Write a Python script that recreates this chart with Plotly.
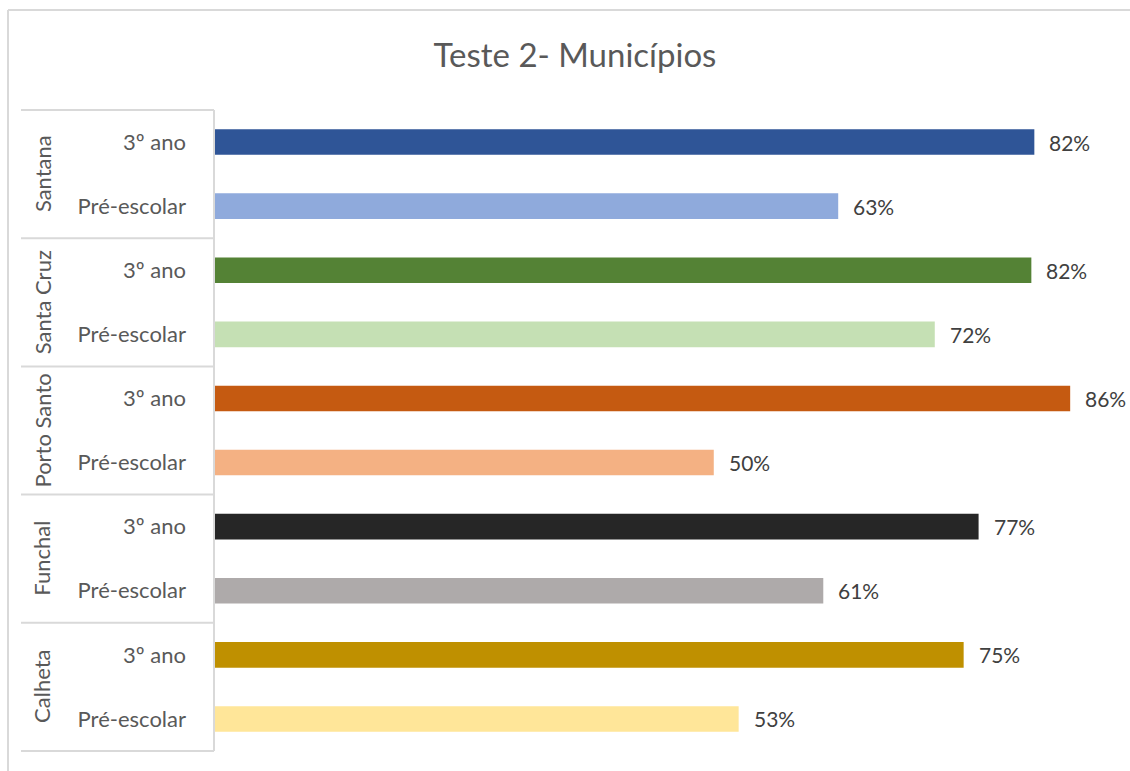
import plotly.graph_objects as go

municipios = ["Santana", "Santa Cruz", "Porto Santo", "Funchal", "Calheta"]
niveis = ["3º ano", "Pré-escolar"]
valores_3ano = [0.824, 0.821, 0.860, 0.768, 0.753]
valores_pre = [0.627, 0.724, 0.502, 0.612, 0.527]
cores_3ano = ["#2F5597", "#548235", "#C55A11", "#262626", "#BF9000"]
cores_pre = ["#8FAADC", "#C5E0B4", "#F4B183", "#AEAAAA", "#FFE699"]

W, H = 1130, 771
L, R, T, B = 214, 20, 109, 19
FONT = "Lato, 'Open Sans', sans-serif"
GREY = "#D9D9D9"

keys, labels, vals, cols = [], [], [], []
for i, m in enumerate(municipios):
    keys += [m + "|" + niveis[0], m + "|" + niveis[1]]
    labels += niveis
    vals += [valores_3ano[i], valores_pre[i]]
    cols += [cores_3ano[i], cores_pre[i]]

fig = go.Figure(go.Bar(
    x=vals, y=keys, orientation="h",
    marker=dict(color=cols, line=dict(width=0)),
    width=0.4, hoverinfo="skip",
))

pw = W - L - R
ph = H - T - B
def px2paper_x(px):
    return (px - L) / pw
def px2paper_y(py):
    return 1 - (py - T) / ph

shapes = []
top_y = px2paper_y(10)
shapes.append(dict(type="line", xref="paper", yref="paper",
                   x0=px2paper_x(8), x1=px2paper_x(1130), y0=top_y, y1=top_y,
                   line=dict(color=GREY, width=2)))
shapes.append(dict(type="line", xref="paper", yref="paper",
                   x0=px2paper_x(8), x1=px2paper_x(8), y0=px2paper_y(771), y1=top_y,
                   line=dict(color=GREY, width=2)))
n = len(keys)
for b in range(0, n + 1, 2):
    shapes.append(dict(type="line", xref="paper", yref="y",
                       x0=px2paper_x(21), x1=0, y0=b - 0.5, y1=b - 0.5,
                       line=dict(color=GREY, width=2)))
shapes.append(dict(type="line", xref="paper", yref="y",
                   x0=0, x1=0, y0=-0.5, y1=n - 0.5,
                   line=dict(color=GREY, width=2)))

annotations = []
for i, m in enumerate(municipios):
    annotations.append(dict(text=m, xref="paper", yref="y",
                            x=px2paper_x(42), y=2 * i + 0.5, textangle=-90,
                            showarrow=False, xanchor="center", yanchor="middle",
                            font=dict(family=FONT, size=22, color="#595959")))
for k, v in zip(keys, vals):
    annotations.append(dict(text=f"{round(v * 100)}%", xref="x", yref="y",
                            x=v, y=k, xanchor="left", yanchor="middle",
                            xshift=13, showarrow=False,
                            font=dict(family=FONT, size=21, color="#404040")))

fig.update_layout(
    width=W, height=H,
    margin=dict(l=L, r=R, t=T, b=B),
    paper_bgcolor="white", plot_bgcolor="white",
    title=dict(text="Teste 2- Municípios", x=575 / W, xanchor="center",
               y=1 - 55 / H, yanchor="middle",
               font=dict(family=FONT, size=33, color="#595959")),
    xaxis=dict(range=[0, 0.9], visible=False, showgrid=False, zeroline=False),
    yaxis=dict(type="category", categoryorder="array", categoryarray=keys,
               tickvals=keys, ticktext=labels, autorange="reversed",
               showgrid=False, showline=False, ticks="",
               ticklabelstandoff=27,
               tickfont=dict(family=FONT, size=22, color="#595959")),
    shapes=shapes, annotations=annotations, showlegend=False,
)

fig.write_html("out.html", config={"displayModeBar": False},
               post_script="document.body.style.margin='0';document.body.style.overflow='hidden';")
